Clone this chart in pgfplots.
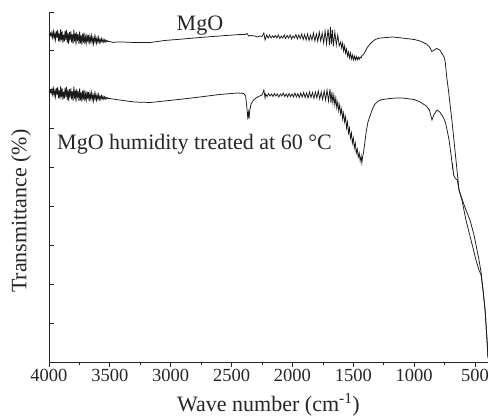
\documentclass[border=0pt]{standalone}
\usepackage{fontspec}
\setmainfont{Liberation Serif}
\usepackage{pgfplots}
\pgfplotsset{compat=1.18}
\begin{document}
\begin{tikzpicture}
\begin{axis}[
  scale only axis,
  width=439pt, height=350pt,
  x dir=reverse,
  xmin=394, xmax=4000,
  ymin=0, ymax=350,
  axis x line*=bottom, axis y line*=left,
  axis line style={line width=0.9pt, black!85},
  xtick={4000,3500,3000,2500,2000,1500,1000,500},
  minor x tick num=1,
  ytick={0,38.8889,77.7778,116.667,155.556,194.444,233.333,272.222,311.111,350},
  yticklabels={},
  tick align=inside,
  major tick length=5pt, minor tick length=3.5pt,
  major x tick style={yshift=-5pt},
  minor x tick style={yshift=-3.5pt},
  tick style={line width=0.8pt, black!85},
  /pgf/number format/assume math mode=true,
  /pgf/number format/1000 sep={},
  xticklabel style={font=\fontsize{18.5}{22}\selectfont, text=black!85, yshift=-4pt},
  xlabel={Wave number (cm\textsuperscript{-1})},
  label style={font=\fontsize{22}{26}\selectfont, text=black!85},
  xlabel style={at={(axis description cs:0.5,0)}, anchor=center, yshift=-43pt},
  clip=true, clip mode=individual,
]
% MgO
\addplot[line width=0.75pt, black!90] coordinates {
(4000,328)(3994,325.9)(3988,328.8)(3982,325.8)(3976,329.7)(3970,324.6)(3964,330.5)(3958,323.5)(3952,328.4)(3946,322.3)
(3940,331.2)(3934,324.1)(3928,332.1)(3922,321)(3916,328.9)(3910,319.8)(3904,332.8)(3898,321.7)(3892,330.6)(3886,319.5)
(3880,327.4)(3874,320.4)(3868,331.3)(3862,322.2)(3856,332.1)(3850,319.1)(3844,329)(3838,317.9)(3832,329.8)(3826,321.7)
(3820,330.7)(3814,319.6)(3808,327.5)(3802,318.4)(3796,332.3)(3790,320.3)(3784,329.2)(3778,317.1)(3772,330)(3766,321)
(3760,327.9)(3754,317.8)(3748,330.7)(3742,318.6)(3736,326.6)(3730,317.5)(3724,328.4)(3718,319.3)(3712,329.3)(3706,318.2)
(3700,325.1)(3694,319)(3688,327.9)(3682,319.9)(3676,326.8)(3670,317.7)(3664,325.6)(3658,320.6)(3652,326.5)(3646,319.4)
(3640,324.3)(3634,318.2)(3628,325.2)(3622,320.1)(3616,325)(3610,318.9)(3604,323.9)(3598,319.8)(3592,324.7)(3586,319.6)
(3580,322.5)(3574,319.5)(3568,323.4)(3562,320.3)(3556,322.7)(3550,319.7)(3544,322.1)(3538,320)(3532,321.9)(3526,320.3)
(3520,321.3)(3514,320.2)(3508,320.6)(3502,320.5)(3470,319.5)(3450,320)(3400,320)(3300,319.5)(3170,319.5)
(3050,321.5)(2900,323)(2760,324.5)(2600,326)(2431,327.5)(2390,327.5)(2373,328.5)(2360,326)(2340,326.5)
(2310,326)(2290,325)(2270,326)(2250,325.5)(2235,329)(2225,322)(2212,327)(2200,324)(2188,327)(2176,324)
(2164,326)(2152,324.5)(2140,326.5)(2128,324)(2116,327)(2104,323.5)(2092,326)(2080,324)(2068,327)(2056,323.5)
(2044,326.5)(2032,324)(2020,327)(2008,323)(1996,326)(1984,324)(1972,327.5)(1960,323)(1948,327)(1936,323.5)
(1924,328)(1912,322.5)(1900,327.5)(1888,322)(1876,328)(1864,321.5)(1852,327)(1840,322)(1828,329)(1816,321)
(1804,328)(1792,320.5)(1780,330)(1768,321)(1756,329)(1744,319)(1732,331)(1720,318)(1708,333)(1696,317)
(1688,335)(1680,318)(1672,332)(1664,316)(1652,330)(1640,317)(1628,327)(1616,316)
(1604,320)(1596,314)(1588,319)(1580,311)(1572,316)(1564,309)(1556,313)(1548,306)(1540,310)(1532,304)
(1524,309)(1516,303)(1508,307)(1500,302)(1492,306)(1484,302)(1476,305.5)(1468,302)(1460,305)(1452,302.5)
(1444,305)(1436,304)(1428,307)(1420,307)(1404,310)(1388,314)(1363,318)(1347,320)(1320,322.5)(1281,324)
(1174,325)(1100,324)(1000,322.5)(952,321)(900,318)(875,315)(855,310.5)(835,312)(815,313.5)(790,312)
(765,307)(755,305)(745,300)(733,285)(718,271)(706,258)(689,240)(673,221)(657,202)(632,172)
(599,160)(575,152)(542,142)(509,127)(468,102)(451,90)(435,72)(418,52)(410,37)(402,22)(394,4)
};
% MgO humidity treated
\addplot[line width=0.75pt, black!90] coordinates {
(4000,271)(3994,268.9)(3988,271.8)(3982,268.8)(3976,272.7)(3970,267.6)(3964,273.5)(3958,266.5)(3952,271.4)(3946,265.3)
(3940,274.2)(3934,267.1)(3928,275.1)(3922,264)(3916,271.9)(3910,262.8)(3904,275.8)(3898,264.7)(3892,273.6)(3886,262.5)
(3880,270.4)(3874,263.4)(3868,274.3)(3862,265.2)(3856,275.1)(3850,262.1)(3844,272)(3838,260.9)(3832,272.8)(3826,264.7)
(3820,273.7)(3814,262.6)(3808,270.5)(3802,261.4)(3796,275.3)(3790,263.3)(3784,272.2)(3778,260.1)(3772,273)(3766,264)
(3760,270.9)(3754,260.8)(3748,273.7)(3742,261.6)(3736,269.6)(3730,260.5)(3724,271.4)(3718,262.3)(3712,272.3)(3706,261.2)
(3700,268.1)(3694,262)(3688,270.9)(3682,262.9)(3676,269.8)(3670,260.7)(3664,268.6)(3658,263.6)(3652,269.5)(3646,262.4)
(3640,267.3)(3634,261.2)(3628,268.2)(3622,263.1)(3616,268)(3610,261.9)(3604,266.9)(3598,262.8)(3592,267.7)(3586,262.6)
(3580,265.5)(3574,262.5)(3568,266.4)(3562,263.3)(3556,265.7)(3550,262.7)(3544,265.1)(3538,263)(3532,264.9)(3526,263.3)
(3520,264.3)(3514,263.2)(3508,263.6)(3502,263.5)(3450,262.5)(3300,260)(3170,259.5)(3050,261)
(2900,263)(2760,265)(2600,267.5)(2450,269)(2400,268.5)(2385,266)(2375,255)(2368,245)(2362,250)(2357,243)
(2350,252)(2340,258)(2320,262)(2300,264)(2270,266)(2250,267)(2235,272)(2225,264)
(2220,268)(2208,265.5)(2196,268.5)(2184,266)(2172,268)(2160,265.5)(2148,268.5)(2136,266)(2124,268)(2112,265)
(2100,268)(2088,266)(2076,269)(2064,265.5)(2052,268)(2040,265)(2028,268.5)(2016,265.5)(2004,268)(1992,265)
(1980,269)(1968,265)(1956,268.5)(1944,264.5)(1932,269)(1920,265)(1908,269.5)(1896,264.5)(1884,269)(1872,264)
(1860,270)(1848,264.5)(1836,269.5)(1824,263.5)(1812,270)(1800,264)(1788,271)(1776,263)(1764,270)(1752,262.5)
(1740,271)(1728,262)(1716,272)(1704,261)(1692,273)(1684,259)(1676,270)(1668,259)(1660,267)(1652,257)
(1644,264)(1636,254)(1628,260)(1620,251)(1612,257)(1604,248)(1596,253)(1588,243)(1580,249)(1572,240)
(1564,245)(1556,234)(1548,240)(1540,229)(1532,234)(1524,224)(1516,229)(1508,219)(1500,224)(1492,214)
(1484,219)(1476,209)(1468,213)(1460,205)(1452,209)(1444,201)(1436,206)(1430,199)(1424,205)(1416,210)
(1405,220)(1395,230)(1380,240)(1363,246)(1340,254)(1322,258)(1290,261.5)(1256,262.5)(1200,263.5)(1141,264)
(1100,264)(1000,262.5)(952,260)(900,256)(875,252)(854,242)(840,247)(813,252)(790,250)(763,245)
(745,240)(730,232)(714,222)(697,207)(683,192)(687,199)(676,187)(665,184)(646,182)(632,172)
(608,162)(575,142)(542,126)(517,114)(493,102)(468,92)(451,87)(435,72)(418,52)(410,37)(402,22)(394,4)
};
\node[anchor=base, font=\fontsize{22}{26}\selectfont, text=black!85] at (axis cs:2760,331) {MgO};
\node[anchor=base west, font=\fontsize{22}{26}\selectfont, text=black!85, inner sep=0pt] at (axis cs:3934,212) {MgO humidity treated at 60 °C};
\node[rotate=90, anchor=center, font=\fontsize{22}{26}\selectfont, text=black!85, inner sep=0pt] at (axis description cs:-0.0638,0.431) {Transmittance (\%)};
\end{axis}
\pgfresetboundingbox
\path[use as bounding box] ([xshift=-49pt,yshift=-56pt]current axis.south west) rectangle ([xshift=1pt,yshift=12pt]current axis.north east);
\end{tikzpicture}
\end{document}
